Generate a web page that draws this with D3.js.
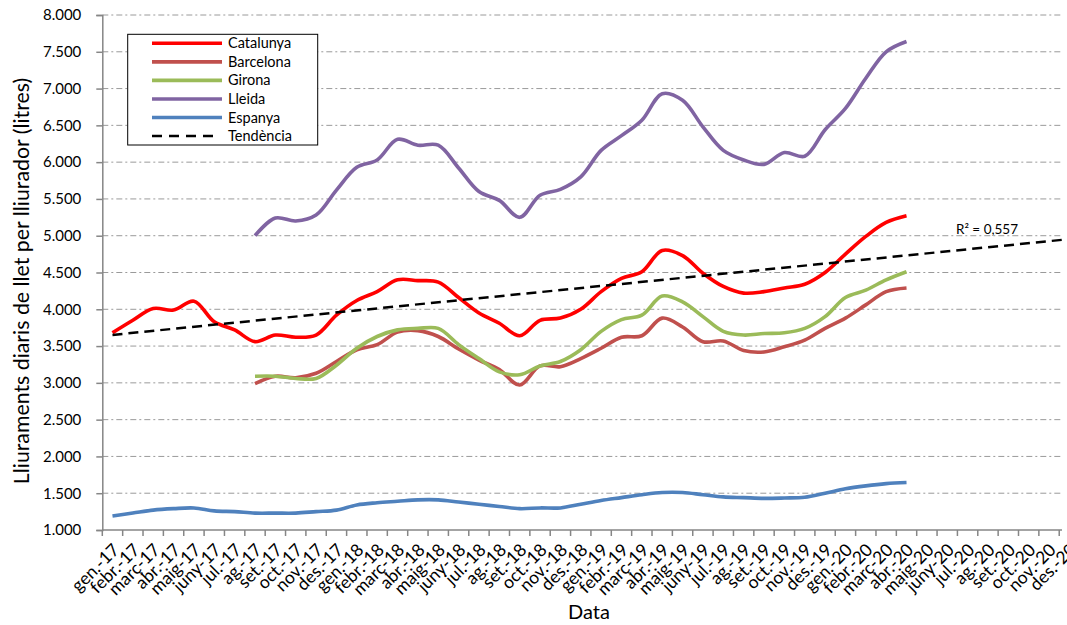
<!DOCTYPE html>
<html>
  <head>
    <title>Lliuraments de llet</title>
    <script src="https://d3js.org/d3.v7.min.js"></script>
    <style>
      body { margin: 0; background: #fff; }
      svg { font-family: Lato, "Open Sans", sans-serif; }
    </style>
  </head>
  <body>
    <div id="chart"></div>
    <script>
      // Months on the x axis (48 categories, data only up to abr.-20)
      var months = [
        "gen.-17", "febr.-17", "març-17", "abr.-17", "maig-17", "juny-17", "jul.-17", "ag.-17", "set.-17", "oct.-17", "nov.-17", "des.-17",
        "gen.-18", "febr.-18", "març-18", "abr.-18", "maig-18", "juny-18", "jul.-18", "ag.-18", "set.-18", "oct.-18", "nov.-18", "des.-18",
        "gen.-19", "febr.-19", "març-19", "abr.-19", "maig-19", "juny-19", "jul.-19", "ag.-19", "set.-19", "oct.-19", "nov.-19", "des.-19",
        "gen.-20", "febr.-20", "març-20", "abr.-20", "maig-20", "juny-20", "jul.-20", "ag.-20", "set.-20", "oct.-20", "nov.-20", "des.-20"
      ];

      // litres per producer and day; null = no data
      var catalunya = [3680, 3850, 4010, 3990, 4110, 3830, 3720, 3560, 3650, 3620, 3650, 3920,
        4120, 4240, 4400, 4390, 4370, 4160, 3950, 3810, 3640, 3850, 3880, 4000,
        4240, 4420, 4510, 4800, 4730, 4490, 4310, 4220, 4240, 4290, 4340, 4500,
        4750, 4990, 5180, 5270];
      var barcelona = [null, null, null, null, null, null, null, 2990, 3090, 3070, 3130, 3290,
        3450, 3520, 3690, 3710, 3630, 3460, 3310, 3180, 2970, 3230, 3220, 3330,
        3470, 3620, 3640, 3880, 3760, 3560, 3570, 3440, 3420, 3490, 3580, 3740,
        3880, 4060, 4240, 4290];
      var girona = [null, null, null, null, null, null, null, 3090, 3090, 3060, 3060, 3240,
        3470, 3630, 3720, 3740, 3740, 3520, 3330, 3150, 3110, 3230, 3290, 3450,
        3700, 3860, 3920, 4180, 4100, 3900, 3700, 3650, 3670, 3680, 3740, 3900,
        4160, 4260, 4400, 4510];
      var lleida = [null, null, null, null, null, null, null, 5000, 5240, 5200, 5280, 5620,
        5930, 6030, 6310, 6230, 6230, 5920, 5600, 5480, 5250, 5550, 5630, 5800,
        6160, 6360, 6570, 6930, 6840, 6480, 6160, 6030, 5970, 6130, 6080, 6440,
        6730, 7140, 7500, 7640];
      var espanya = [1190, 1230, 1270, 1290, 1300, 1260, 1250, 1230, 1230, 1230, 1250, 1270,
        1340, 1370, 1390, 1410, 1410, 1380, 1350, 1320, 1290, 1300, 1300, 1350,
        1400, 1440, 1480, 1510, 1510, 1480, 1450, 1440, 1430, 1435, 1445, 1500,
        1560, 1600, 1630, 1645];

      var seriesNames = ["Catalunya", "Barcelona", "Girona", "Lleida", "Espanya"];
      var seriesValues = [catalunya, barcelona, girona, lleida, espanya];
      var seriesColors = ["#ff0000", "#c0504d", "#9bbb59", "#8064a2", "#4f81bd"];
      var yTicks = [1000, 1500, 2000, 2500, 3000, 3500, 4000, 4500, 5000, 5500, 6000, 6500, 7000, 7500, 8000];
      var r2Label = "R² = 0,557";

      var width = 1067, height = 625;
      var plotLeft = 102.3, plotTop = 15, plotBottom = 530, bandW = 20.36, gridEnd = 1062;

      var svg = d3.select("#chart")
        .append("svg")
        .attr("width", width)
        .attr("height", height);

      var x = d3.scaleBand()
        .domain(months)
        .range([plotLeft, plotLeft + bandW * months.length])
        .padding(0);

      var y = d3.scaleLinear()
        .domain([1000, 8000])
        .range([plotBottom, plotTop]);

      var cx = function(i) { return x(months[i]) + x.bandwidth() / 2; };

      var fmt = d3.formatLocale({ decimal: ",", thousands: ".", grouping: [3], currency: ["", ""] }).format(",.0f");

      // gridlines
      svg.append("g")
        .selectAll("line")
        .data(yTicks.filter(function(d) { return d > 1000; }))
        .enter()
        .append("line")
        .attr("x1", plotLeft)
        .attr("x2", gridEnd)
        .attr("y1", function(d) { return y(d); })
        .attr("y2", function(d) { return y(d); })
        .attr("stroke", "#9a9a9a")
        .attr("stroke-width", 1)
        .attr("stroke-dasharray", "6,3,2,3");

      // y axis
      var yAxis = svg.append("g")
        .attr("transform", "translate(" + plotLeft + ",0)")
        .call(d3.axisLeft(y).tickValues(yTicks).tickFormat(fmt).tickSize(6).tickPadding(15));
      yAxis.select(".domain").attr("stroke", "#868686").attr("stroke-width", 1.5);
      yAxis.selectAll(".tick line").attr("stroke", "#868686").attr("stroke-width", 1.5);
      yAxis.selectAll("text").attr("font-size", "15px").attr("fill", "#000").style("font-family", "Lato");

      // x axis: line, ticks at category boundaries, rotated labels
      var xg = svg.append("g");
      xg.append("line")
        .attr("x1", plotLeft).attr("x2", gridEnd)
        .attr("y1", plotBottom).attr("y2", plotBottom)
        .attr("stroke", "#868686").attr("stroke-width", 1.5);
      xg.selectAll(".xt")
        .data(months)
        .enter()
        .append("line")
        .attr("x1", function(d) { return x(d); })
        .attr("x2", function(d) { return x(d); })
        .attr("y1", plotBottom)
        .attr("y2", plotBottom + 6)
        .attr("stroke", "#868686")
        .attr("stroke-width", 1.5);
      xg.selectAll(".xl")
        .data(months)
        .enter()
        .append("text")
        .attr("transform", function(d) {
          return "translate(" + (x(d) + x.bandwidth() / 2 + 8) + "," + (plotBottom + 21) + ") rotate(-45)";
        })
        .attr("text-anchor", "end")
        .attr("font-size", "17.5px")
        .text(function(d) { return d; });

      // axis titles
      svg.append("text")
        .attr("x", 589)
        .attr("y", 619)
        .attr("text-anchor", "middle")
        .attr("font-size", "20px")
        .text("Data");
      svg.append("text")
        .attr("transform", "translate(29,281) rotate(-90)")
        .attr("text-anchor", "middle")
        .attr("font-size", "21.3px")
        .text("Lliuraments diaris de llet per lliurador (litres)");

      // series lines
      var line = d3.line()
        .defined(function(d) { return d != null; })
        .x(function(d, i) { return cx(i); })
        .y(function(d) { return y(d); })
        .curve(d3.curveCatmullRom.alpha(0.5));

      seriesValues.forEach(function(vals, k) {
        svg.append("path")
          .datum(vals)
          .attr("fill", "none")
          .attr("stroke", seriesColors[k])
          .attr("stroke-width", 3.6)
          .attr("stroke-linejoin", "round")
          .attr("d", line);
      });

      // linear trend of Catalunya, forecast to the end of the axis
      var idx = d3.range(catalunya.length);
      var mx = d3.mean(idx), my = d3.mean(catalunya);
      var slope = d3.sum(idx, function(i) { return (i - mx) * (catalunya[i] - my); }) /
                  d3.sum(idx, function(i) { return (i - mx) * (i - mx); });
      var intercept = my - slope * mx;
      var lastI = months.length - 1;
      svg.append("line")
        .attr("x1", cx(0))
        .attr("y1", y(intercept))
        .attr("x2", cx(lastI))
        .attr("y2", y(intercept + slope * lastI))
        .attr("stroke", "#000")
        .attr("stroke-width", 2.5)
        .attr("stroke-dasharray", "10,6");

      svg.append("text")
        .attr("x", 987)
        .attr("y", 234)
        .attr("text-anchor", "middle")
        .attr("font-size", "13.5px")
        .text(r2Label);

      // legend
      var legend = svg.append("g");
      legend.append("rect")
        .attr("x", 127.7).attr("y", 34.3)
        .attr("width", 190).attr("height", 110.7)
        .attr("fill", "#fff")
        .attr("stroke", "#000")
        .attr("stroke-width", 1);
      var legendNames = seriesNames.concat(["Tendència"]);
      legendNames.forEach(function(name, k) {
        var ly = 43.3 + 18.55 * k;
        legend.append("line")
          .attr("x1", 152).attr("x2", k < 5 ? 222 : 217)
          .attr("y1", ly).attr("y2", ly)
          .attr("stroke", k < 5 ? seriesColors[k] : "#000")
          .attr("stroke-width", k < 5 ? 3.6 : 2.5)
          .attr("stroke-dasharray", k < 5 ? null : "10,7");
        legend.append("text")
          .attr("x", 228)
          .attr("y", ly)
          .attr("dy", "0.35em")
          .attr("font-size", "14.5px")
          .text(name);
      });
    </script>
  </body>
</html>
